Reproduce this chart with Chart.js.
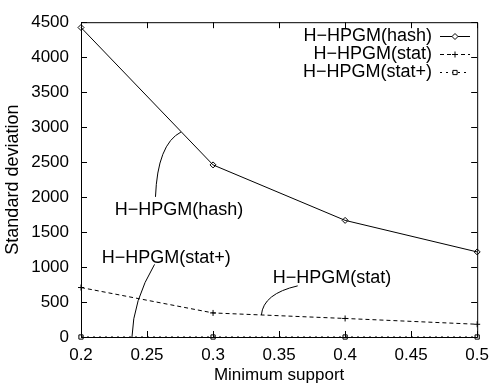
<!DOCTYPE html>
<html>
<head>
<meta charset="utf-8">
<script src="https://cdn.jsdelivr.net/npm/chart.js@4.4.0/dist/chart.umd.min.js"></script>
<style>
  html, body { margin: 0; padding: 0; background: #fff; }
</style>
</head>
<body>
<canvas id="chart" width="497" height="386"></canvas>
<script>
// data
const xValues = [0.2, 0.3, 0.4, 0.5];
const hashValues = [4424, 2460, 1667, 1216];
const statValues = [707, 344, 265, 182];
const statPlusValues = [0, 0, 0, 0];

const xTickLabels = ['0.2', '0.25', '0.3', '0.35', '0.4', '0.45', '0.5'];
const yTickLabels = ['0', '500', '1000', '1500', '2000', '2500', '3000', '3500', '4000', '4500'];

const seriesNames = ['H\u2212HPGM(hash)', 'H\u2212HPGM(stat)', 'H\u2212HPGM(stat+)'];

// labels with curved pointers, given in data coordinates
const callouts = [
  { text: seriesNames[0], at: [0.2742, 1821], from: [0.2564, 2003], ctrl: [0.2579, 2757], to: [0.2757, 2930] },
  { text: seriesNames[2], at: [0.2646, 1122], from: [0.2557, 1038], ctrl: [0.2394, 521], to: [0.2386, 0] },
  { text: seriesNames[1], at: [0.3900, 843], from: [0.3641, 731], ctrl: [0.3380, 619], to: [0.3366, 315] }
];

const FONT = '"Liberation Sans", Arial, Helvetica, sans-serif';
const toPoints = ys => xValues.map((x, i) => ({ x: x, y: ys[i] }));

function lineSet(label, ys, style, dash) {
  return {
    label: label,
    data: toPoints(ys),
    borderColor: '#000',
    borderWidth: 1,
    borderDash: dash,
    pointStyle: style,
    pointRadius: 3,
    pointBorderWidth: 1,
    pointBorderColor: '#000',
    pointBackgroundColor: 'rgba(0,0,0,0)',
    tension: 0,
    clip: false
  };
}

const framePlugin = {
  id: 'frame',
  beforeDatasetsDraw(chart) {
    const { ctx, chartArea: a, scales } = chart;
    ctx.save();
    ctx.strokeStyle = '#000';
    ctx.lineWidth = 1;
    ctx.beginPath();
    ctx.rect(a.left + 0.5, a.top + 0.5, a.right - a.left, a.bottom - a.top);
    ctx.stroke();
    const len = 6;
    ctx.beginPath();
    xTickLabels.forEach(t => {
      const px = Math.round(scales.x.getPixelForValue(Number(t))) + 0.5;
      ctx.moveTo(px, a.bottom); ctx.lineTo(px, a.bottom - len);
      ctx.moveTo(px, a.top); ctx.lineTo(px, a.top + len);
    });
    yTickLabels.forEach(t => {
      const py = Math.round(scales.y.getPixelForValue(Number(t))) + 0.5;
      ctx.moveTo(a.left, py); ctx.lineTo(a.left + len, py);
      ctx.moveTo(a.right, py); ctx.lineTo(a.right - len, py);
    });
    ctx.stroke();
    ctx.restore();
  },
  afterDraw(chart) {
    const { ctx, scales } = chart;
    const X = v => scales.x.getPixelForValue(v);
    const Y = v => scales.y.getPixelForValue(v);
    ctx.save();
    ctx.fillStyle = '#000';
    ctx.strokeStyle = '#000';
    ctx.lineWidth = 1;
    ctx.font = '18px ' + FONT;
    ctx.textBaseline = 'middle';

    // callouts
    ctx.textAlign = 'center';
    callouts.forEach(c => {
      ctx.fillText(c.text, X(c.at[0]), Y(c.at[1]));
      ctx.beginPath();
      ctx.moveTo(X(c.from[0]), Y(c.from[1]));
      ctx.quadraticCurveTo(X(c.ctrl[0]), Y(c.ctrl[1]), X(c.to[0]), Y(c.to[1]));
      ctx.stroke();
    });

    // gnuplot-style key: text then sample line
    ctx.textAlign = 'right';
    chart.data.datasets.forEach((ds, i) => {
      const y = 36 + i * 18;
      ctx.fillStyle = '#000';
      ctx.fillText(ds.label, 432, y);
      ctx.save();
      ctx.setLineDash(ds.borderDash || []);
      ctx.beginPath();
      ctx.moveTo(440, y + 0.5);
      ctx.lineTo(470, y + 0.5);
      ctx.stroke();
      ctx.restore();
      ctx.fillStyle = '#fff';
      Chart.helpers.drawPoint(ctx, { pointStyle: ds.pointStyle, rotation: 0, radius: 3, borderWidth: 1 }, 455, y + 0.5);
    });
    ctx.restore();
  }
};

new Chart(document.getElementById('chart'), {
  type: 'line',
  data: {
    datasets: [
      lineSet(seriesNames[0], hashValues, 'rectRot', []),
      lineSet(seriesNames[1], statValues, 'cross', [4, 3]),
      lineSet(seriesNames[2], statPlusValues, 'rect', [2, 4])
    ]
  },
  options: {
    responsive: false,
    animation: false,
    devicePixelRatio: 1,
    layout: { padding: { top: 15, right: 12, left: 0, bottom: 0 } },
    plugins: { legend: { display: false }, tooltip: { enabled: false } },
    scales: {
      x: {
        type: 'linear',
        min: 0.2,
        max: 0.5,
        afterBuildTicks: s => { s.ticks = xTickLabels.map(t => ({ value: Number(t) })); },
        afterFit: s => { s.height = 49; },
        grid: { display: false, drawTicks: false },
        border: { display: false },
        ticks: {
          autoSkip: false,
          maxRotation: 0,
          padding: 8,
          color: '#000',
          font: { family: FONT, size: 17 },
          callback: (v, i) => xTickLabels[i]
        },
        title: { display: true, text: 'Minimum support', color: '#000', padding: 0, font: { family: FONT, size: 17 } }
      },
      y: {
        min: 0,
        max: 4500,
        afterBuildTicks: s => { s.ticks = yTickLabels.map(t => ({ value: Number(t) })); },
        afterFit: s => { s.width = 81; },
        grid: { display: false, drawTicks: false },
        border: { display: false },
        ticks: {
          autoSkip: false,
          padding: 12,
          color: '#000',
          font: { family: FONT, size: 17 },
          callback: (v, i) => yTickLabels[i]
        },
        title: { display: true, text: 'Standard deviation', color: '#000', padding: { top: 2, bottom: 0 }, font: { family: FONT, size: 18 } }
      }
    }
  },
  plugins: [framePlugin]
});
</script>
</body>
</html>
